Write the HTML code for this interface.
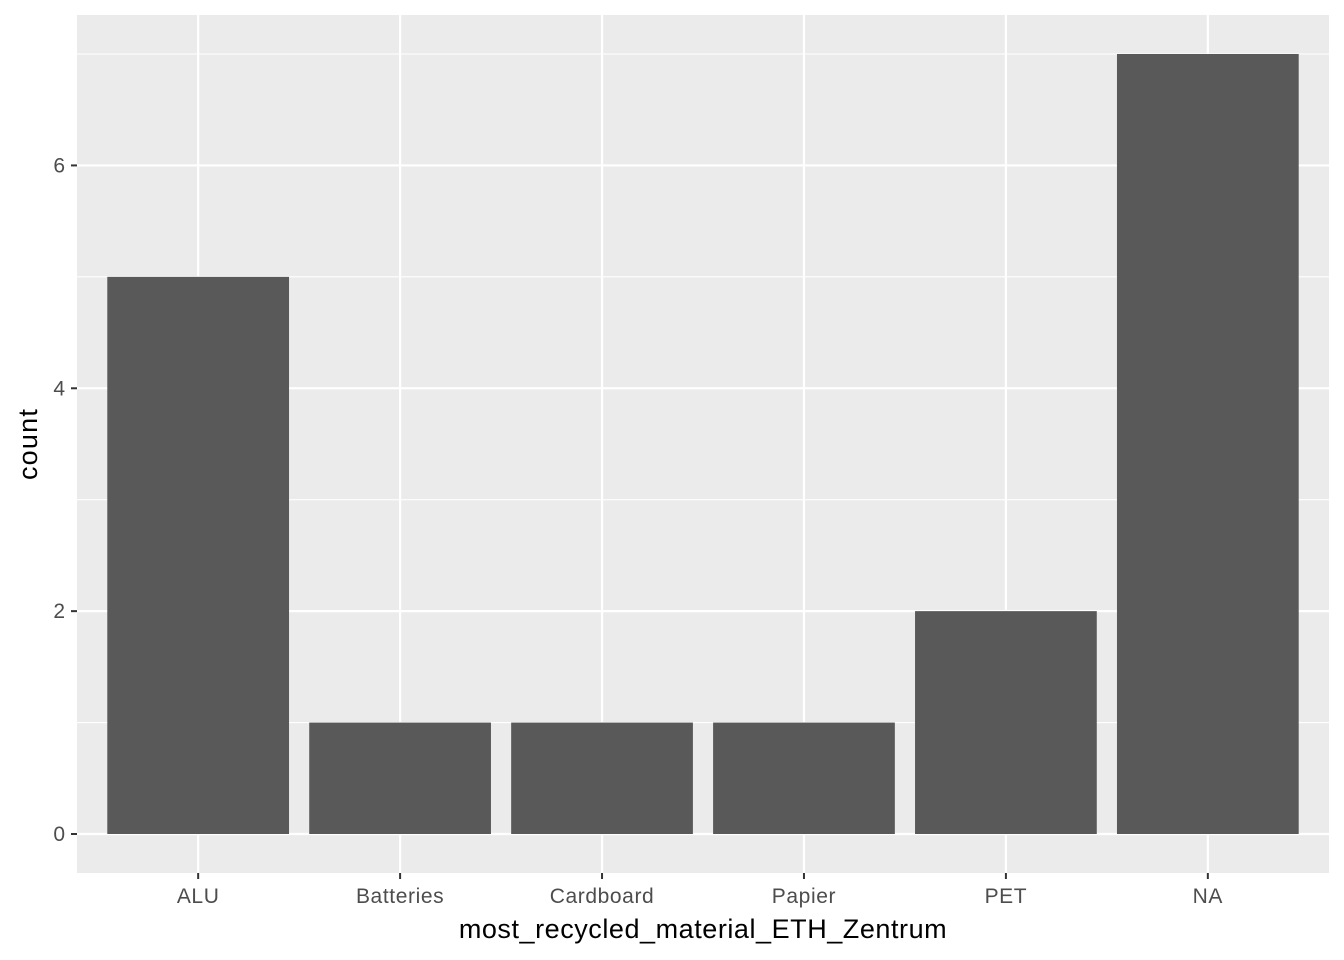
<!DOCTYPE html>
<html><head><meta charset="utf-8"><style>
html,body{margin:0;padding:0;background:#fff;}
svg{display:block;font-family:"Liberation Sans",Arial,sans-serif;}
</style></head><body>
<svg id="chart" width="1344" height="960" viewBox="0 0 1344 960" xmlns="http://www.w3.org/2000/svg">
<rect width="1344" height="960" fill="#fff"/>
<g id="plot"></g>
</svg>
<script>
const categories = ["ALU","Batteries","Cardboard","Papier","PET","NA"];
const counts = [5,1,1,1,2,7];
const yTicks = [0,2,4,6];
const yMinor = [1,3,5,7];

const NS="http://www.w3.org/2000/svg";
const g=document.getElementById('plot');
const px0=77, px1=1329, py0=15, py1=873;
const yMin=-0.35, yMax=7.35;
function y(v){return py1-(v-yMin)/(yMax-yMin)*(py1-py0);}
const step=(px1-px0)/(categories.length+0.2);
function x(i){return px0+step*(0.6+i);}
function mk(tag,attrs,parent){const e=document.createElementNS(NS,tag);for(const k in attrs)e.setAttribute(k,attrs[k]);(parent||g).appendChild(e);return e;}

const panel=mk('rect',{x:px0,y:py0,width:px1-px0,height:py1-py0,fill:'#ebebeb'});



yMinor.forEach(v=>{const l=mk('line',{x1:px0,x2:px1,y1:y(v),y2:y(v),stroke:'#fff','stroke-width':1.1});

});
yTicks.forEach(v=>{const l=mk('line',{x1:px0,x2:px1,y1:y(v),y2:y(v),stroke:'#fff','stroke-width':2.2});

});
categories.forEach((c,i)=>{const l=mk('line',{x1:x(i),x2:x(i),y1:py0,y2:py1,stroke:'#fff','stroke-width':2.2});

});

const bw=step*0.9;
categories.forEach((c,i)=>{
  const r=mk('rect',{x:x(i)-bw/2,y:y(counts[i]),width:bw,height:y(0)-y(counts[i]),fill:'#595959'});
  
  
  const t=mk('line',{x1:x(i),x2:x(i),y1:py1,y2:py1+6,stroke:'#333','stroke-width':2});
  
  
  const lb=mk('text',{x:x(i),y:py1+30,'text-anchor':'middle','font-size':21,'letter-spacing':0.6,fill:'#4d4d4d'});
  lb.textContent=c;
  
  
});
yTicks.forEach(v=>{
  const t=mk('line',{x1:px0-6,x2:px0,y1:y(v),y2:y(v),stroke:'#333','stroke-width':2});
  
  
  const lb=mk('text',{x:px0-12,y:y(v)+7,'text-anchor':'end','font-size':21,fill:'#4d4d4d'});
  lb.textContent=v;
  
  
});
const xt=mk('text',{x:(px0+px1)/2,y:938,'text-anchor':'middle','font-size':27,'letter-spacing':0.55,fill:'#000'});
xt.textContent='most_recycled_material_ETH_Zentrum';


const yt=mk('text',{x:0,y:0,'text-anchor':'middle','font-size':27,'letter-spacing':1.2,fill:'#000',transform:'translate(37,'+((py0+py1)/2)+') rotate(-90)'});
yt.textContent='count';


</script>
</body></html>
